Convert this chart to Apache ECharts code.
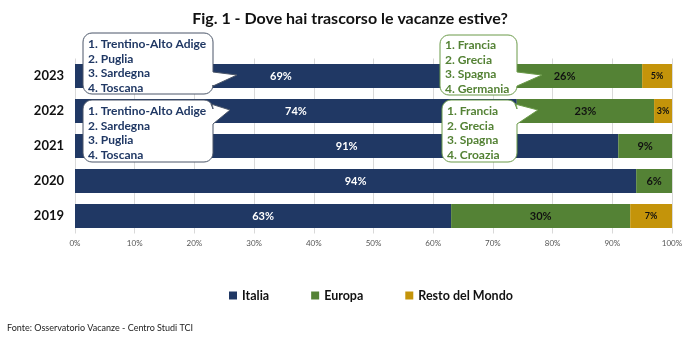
<!DOCTYPE html>
<html>
<head>
<meta charset="utf-8">
<script src="https://cdn.jsdelivr.net/npm/echarts@6/dist/echarts.min.js"></script>
<style>html,body{margin:0;padding:0;background:#fff}#c{width:700px;height:338px}</style>
</head>
<body>
<div id="c"></div>
<script>
// ---- data ----
const years = ['2019', '2020', '2021', '2022', '2023'];
const italia = [63, 94, 91, 74, 69];
const europa = [30, 6, 9, 23, 26];
const restoMondo = [7, 0, 0, 3, 5];
const xTicks = [0, 10, 20, 30, 40, 50, 60, 70, 80, 90, 100];
const seriesNames = ['Italia', 'Europa', 'Resto del Mondo'];
const itaTop2023 = ['1. Trentino-Alto Adige', '2. Puglia', '3. Sardegna', '4. Toscana'];
const itaTop2021 = ['1. Trentino-Alto Adige', '2. Sardegna', '3. Puglia', '4. Toscana'];
const eurTop2023 = ['1. Francia', '2. Grecia', '3. Spagna', '4. Germania'];
const eurTop2021 = ['1. Francia', '2. Grecia', '3. Spagna', '4. Croazia'];
const titleText = 'Fig. 1 - Dove hai trascorso le vacanze estive?';
const sourceText = 'Fonte: Osservatorio Vacanze - Centro Studi TCI';

const NAVY = '#203864', GREEN = '#548235', GOLD = '#C4940A';
const FONT = 'Lato, "Liberation Sans", sans-serif';

function arcPts(cx, cy, r, a0, a1) {
  const pts = [];
  for (let i = 0; i <= 6; i++) {
    const a = a0 + (a1 - a0) * i / 6;
    pts.push([cx + r * Math.cos(a), cy + r * Math.sin(a)]);
  }
  return pts;
}
// rounded box with a tail on the right edge: tail = [base1, apex, base2]
function calloutPoints(x, y, w, h, r, tail) {
  const R = x + w, B = y + h, P = Math.PI;
  let pts = [];
  pts = pts.concat(arcPts(x + r, y + r, r, P, 1.5 * P));
  pts = pts.concat(arcPts(R - r, y + r, r, 1.5 * P, 2 * P));
  pts = pts.concat(tail);
  pts = pts.concat(arcPts(R - r, B - r, r, 0, 0.5 * P));
  pts = pts.concat(arcPts(x + r, B - r, r, 0.5 * P, P));
  return pts;
}
function box(points, stroke) {
  return { type: 'polygon', shape: { points: points }, style: { fill: '#fff', stroke: stroke, lineWidth: 1 }, z: 100 };
}
function boxText(x, y, lines, color) {
  return { type: 'text', x: x, y: y, z: 101,
    style: { text: lines.join('\n'), font: 'bold 12px ' + FONT, fill: color, lineHeight: 14.6, verticalAlign: 'top' } };
}

const chart = echarts.init(document.getElementById('c'), null, { renderer: 'canvas' });
const pct = p => (p.value ? p.value + '%' : '');

chart.setOption({
  animation: false,
  backgroundColor: '#fff',
  title: {
    text: titleText, left: 'center', top: 6,
    textStyle: { fontFamily: FONT, fontSize: 16, fontWeight: 'bold', color: '#111' }
  },
  legend: {
    data: seriesNames, left: 224, top: 284, itemGap: 42,
    icon: 'rect', itemWidth: 8, itemHeight: 8,
    textStyle: { fontFamily: FONT, fontSize: 12.5, fontWeight: 'bold', color: '#111' }
  },
  grid: { left: 75, right: 28, top: 58.5, height: 175, containLabel: false },
  xAxis: {
    type: 'value', min: 0, max: 100, interval: 10,
    axisLine: { show: false }, axisTick: { show: false },
    splitLine: { lineStyle: { color: '#d9d9d9', width: 1 } },
    axisLabel: { formatter: v => xTicks.includes(v) ? v + '%' : '', fontFamily: FONT, fontSize: 8, color: '#555', margin: 6 }
  },
  yAxis: {
    type: 'category', data: years,
    axisLine: { show: false }, axisTick: { show: false },
    axisLabel: { fontFamily: FONT, fontSize: 13, fontWeight: 'bold', color: '#111', margin: 11 }
  },
  series: [
    { name: seriesNames[0], type: 'bar', stack: 't', data: italia, barWidth: 24,
      itemStyle: { color: NAVY },
      label: { show: true, position: 'inside', formatter: pct, color: '#fff', fontFamily: FONT, fontWeight: 'bold', fontSize: 11 } },
    { name: seriesNames[1], type: 'bar', stack: 't', data: europa, barWidth: 24,
      itemStyle: { color: GREEN },
      label: { show: true, position: 'inside', formatter: pct, color: '#111', fontFamily: FONT, fontWeight: 'bold', fontSize: 11 } },
    { name: seriesNames[2], type: 'bar', stack: 't', data: restoMondo, barWidth: 24,
      itemStyle: { color: GOLD },
      label: { show: true, position: 'inside', formatter: pct, color: '#111', fontFamily: FONT, fontWeight: 'bold', fontSize: 9 } }
  ],
  graphic: [
    box(calloutPoints(83, 33, 130, 61, 9, [[213, 72], [237, 75], [213, 86]]), '#4a5568'),
    boxText(88, 37, itaTop2023, NAVY),
    box(calloutPoints(83, 100, 130, 62, 9, [[211, 104], [230, 110], [213, 124]]), '#4a5568'),
    boxText(88, 104, itaTop2021, NAVY),
    box(calloutPoints(440, 35, 77, 60, 9, [[517, 72], [542, 75], [517, 86]]), '#6a9a48'),
    boxText(445, 38, eurTop2023, GREEN),
    box(calloutPoints(442, 100, 75, 62, 9, [[515, 104], [538, 110], [517, 124]]), '#6a9a48'),
    boxText(447, 104, eurTop2021, GREEN),
    { type: 'text', left: 7, top: 324,
      style: { text: sourceText, font: '9px ' + FONT, fill: '#222' } }
  ]
});
</script>
</body>
</html>
